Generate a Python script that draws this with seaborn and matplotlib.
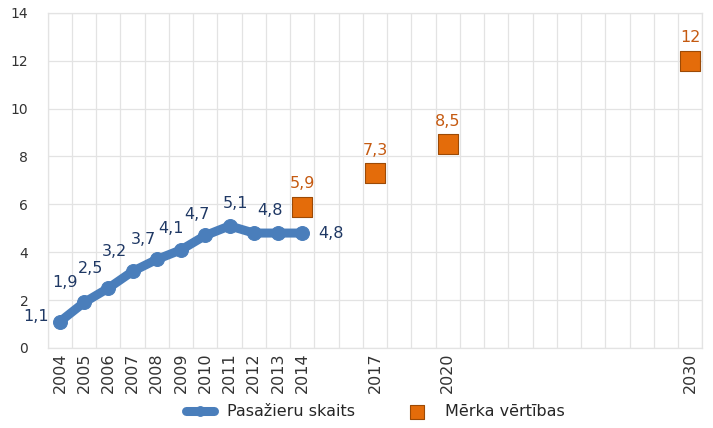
import matplotlib
matplotlib.use("Agg")
import matplotlib.pyplot as plt
import seaborn as sns
import pandas as pd
import numpy as np

# data
years = [2004, 2005, 2006, 2007, 2008, 2009, 2010, 2011, 2012, 2013, 2014]
passengers = [1.1, 1.9, 2.5, 3.2, 3.7, 4.1, 4.7, 5.1, 4.8, 4.8, 4.8]
target_years = [2014, 2017, 2020, 2030]
target_values = [5.9, 7.3, 8.5, 12]
tick_years = years + [2017, 2020, 2030]

df = pd.DataFrame({"year": years, "value": passengers})
df_t = pd.DataFrame({"year": target_years, "value": target_values})

sns.set_style("white")
plt.rcParams["font.family"] = ["DejaVu Sans"]

blue = "#4A7EBB"
orange = "#E46C0A"
navy = "#1F3864"
brown = "#C55A11"

fig = plt.figure(figsize=(7.13, 4.28), dpi=100)
ax = fig.add_axes([0.067, 0.187, 0.918, 0.783])

sns.lineplot(data=df, x="year", y="value", ax=ax, color=blue, lw=6.5,
             marker="o", markersize=10, markeredgecolor=blue,
             label="Pasažieru skaits", zorder=3)
sns.scatterplot(data=df_t, x="year", y="value", ax=ax, marker="s", s=200,
                color=orange, edgecolor="#9C4A06", linewidth=0.8,
                label="Mērka vērtības", zorder=4)

# data labels (offset in points, vertical alignment)
offs = [(-17, 4, "center"), (-14, 9, "bottom"), (-13, 9, "bottom"), (-13, 9, "bottom"),
        (-10, 9, "bottom"), (-7, 10, "bottom"), (-6, 10, "bottom"), (4, 11, "bottom"),
        (12, 11, "bottom"), None, (21, 0, "center")]
for x, y, o in zip(years, passengers, offs):
    if o is None:
        continue
    dx, dy, va = o
    ax.annotate(f"{y:g}".replace(".", ","), (x, y), xytext=(dx, dy),
                textcoords="offset points", ha="center", va=va,
                fontsize=11.5, color=navy)
for x, y in zip(target_years, target_values):
    ax.annotate(f"{y:g}".replace(".", ","), (x, y), xytext=(0, 11),
                textcoords="offset points", ha="center", va="bottom",
                fontsize=11.5, color=brown)

ax.set_xlim(2003.5, 2030.5)
ax.set_ylim(0, 14)
ax.set_yticks(np.arange(0, 15, 2))
ax.set_xticks(tick_years)
ax.set_xticklabels([str(y) for y in tick_years], rotation=90)
ax.set_xticks(np.arange(2003.5, 2031, 1), minor=True)
ax.grid(which="minor", axis="x", color="#E3E3E3", lw=0.9)
ax.grid(which="major", axis="y", color="#E3E3E3", lw=0.9)
ax.grid(which="major", axis="x", visible=False)
ax.tick_params(axis="both", which="both", length=0, labelsize=10, colors="#333333")
ax.tick_params(axis="x", labelsize=11.5, pad=3)
ax.tick_params(axis="y", pad=14)
ax.set_xlabel("")
ax.set_ylabel("")
for s in ax.spines.values():
    s.set_color("#E3E3E3")
    s.set_linewidth(0.9)

ax.legend(loc="center", bbox_to_anchor=(0.5, -0.19), ncol=2, frameon=False,
          fontsize=11.5, handlelength=1.8, columnspacing=3, markerscale=0.7)

fig.savefig("out.png", dpi=100)
